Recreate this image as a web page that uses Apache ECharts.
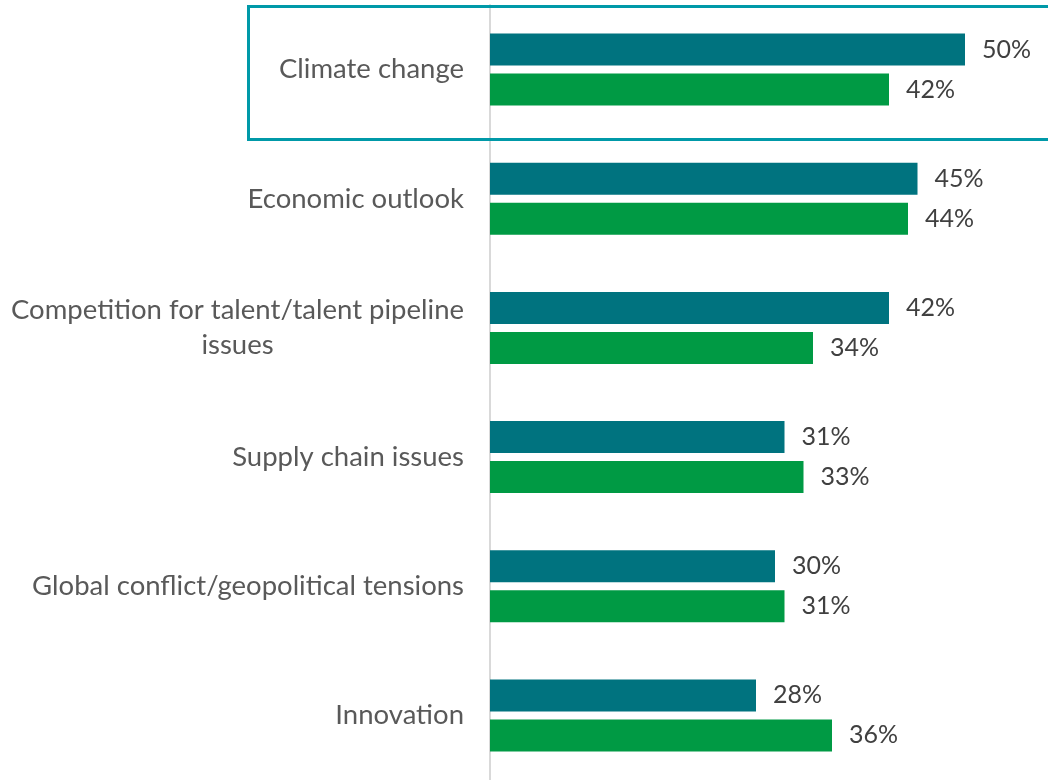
<!DOCTYPE html>
<html>
<head>
<meta charset="utf-8">
<script src="https://cdn.jsdelivr.net/npm/echarts@6/dist/echarts.min.js"></script>
<style>
  html, body { margin: 0; padding: 0; background: #ffffff; }
  #chart { width: 1048px; height: 780px; }
</style>
</head>
<body>
<div id="chart"></div>
<script>
// Survey topics, top to bottom
const categories = [
  'Climate change',
  'Economic outlook',
  'Competition for talent/talent pipeline\nissues',
  'Supply chain issues',
  'Global conflict/geopolitical tensions',
  'Innovation'
];
// Share of respondents (%)
const seriesA = [50, 45, 42, 31, 30, 28];
const seriesB = [42, 44, 34, 33, 31, 36];

const FONT = 'Lato';
const chart = echarts.init(document.getElementById('chart'), null, { renderer: 'canvas' });

const valueLabel = {
  show: true,
  position: 'right',
  distance: 17,
  formatter: p => p.value + '%',
  color: '#404040',
  fontFamily: FONT,
  fontSize: 25
};

chart.setOption({
  animation: false,
  backgroundColor: '#ffffff',
  grid: { left: 490, top: 5, width: 475, height: 780, containLabel: false },
  xAxis: {
    type: 'value',
    min: 0,
    max: 50,
    show: false
  },
  yAxis: {
    type: 'category',
    data: categories,
    inverse: true,
    axisTick: { show: false },
    axisLine: { show: true, lineStyle: { color: '#D9D9D9', width: 2 } },
    splitLine: { show: false },
    axisLabel: {
      margin: 26,
      // each line centred within the right-aligned label block
      formatter: v => v.split('\n').map(s => '{c|' + s + '}').join('\n'),
      rich: {
        c: {
          align: 'center',
          color: '#595959',
          fontFamily: FONT,
          fontSize: 27.5,
          lineHeight: 35
        }
      }
    }
  },
  series: [
    {
      name: 'Series 1',
      type: 'bar',
      data: seriesA,
      barWidth: 32,
      barGap: '25%',
      itemStyle: { color: '#00737F' },
      label: valueLabel
    },
    {
      name: 'Series 2',
      type: 'bar',
      data: seriesB,
      barWidth: 32,
      barGap: '25%',
      itemStyle: { color: '#009A44' },
      label: valueLabel
    }
  ],
  graphic: [
    {
      // highlight frame around the first topic
      type: 'rect',
      shape: { x: 248.5, y: 6.5, width: 900, height: 133 },
      style: { fill: 'none', stroke: '#0099A8', lineWidth: 3 },
      z: 10
    }
  ]
});
</script>
</body>
</html>
